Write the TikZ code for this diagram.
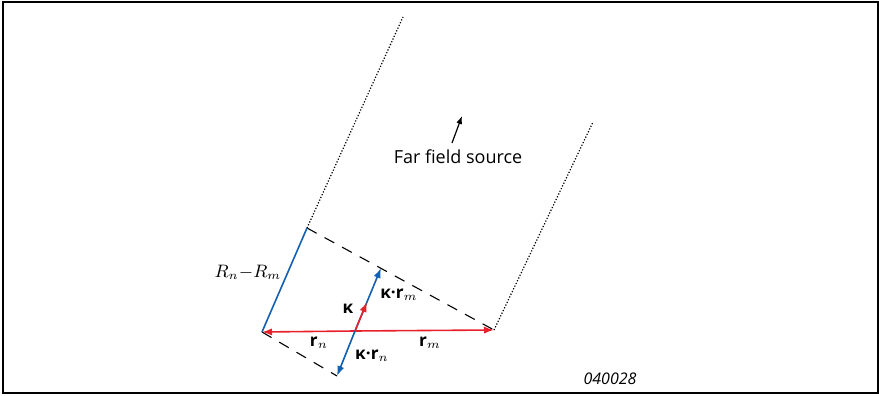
\documentclass[tikz,border=0pt]{standalone}
\usepackage{fontspec}
\setmainfont{Open Sans}
\usepackage{tikz}
\usetikzlibrary{arrows.meta}
\definecolor{vecred}{RGB}{232,32,44}
\definecolor{vecblue}{RGB}{18,96,178}
\tikzset{
  wave/.style={black,line width=0.6pt,dash pattern=on 0.6pt off 0.9pt},
  front/.style={black,line width=0.55pt,dash pattern=on 5.5pt off 4.5pt},
  vecr/.style={vecred,line width=0.8pt,-{Latex[length=5pt,width=3.6pt]}},
  vecb/.style={vecblue,line width=0.8pt,-{Latex[length=5pt,width=3.6pt]}},
  lab/.style={font=\fontsize{8.6}{10}\selectfont\bfseries,inner sep=1pt}
}
\begin{document}
\begin{tikzpicture}[x=0.5pt,y=0.5pt]
\useasboundingbox (0,0) rectangle (879,396);
\draw[line width=1pt] (3,2.5) rectangle (877.5,393.5);
% points of the array and wave fronts
\coordinate (A) at (262,64);
\coordinate (B) at (494,66);
\coordinate (C) at (307,168);
\coordinate (D) at (337,20);
\coordinate (E) at (381,128);
\coordinate (O) at (355,65);
\coordinate (K) at (367,94);
\coordinate (Ctop) at (403,379);
\coordinate (Btop) at (593,274);
% rays from the far field
\draw[wave] (C) -- (Ctop);
\draw[wave] (B) -- (Btop);
% wave fronts
\draw[front] (C) -- (B);
\draw[front] (A) -- (D);
% path difference
\draw[vecblue,line width=0.8pt] (A) -- (C);
% vectors
\draw[vecr] (O) -- (A);
\draw[vecr] (O) -- (B);
\draw[vecb] (O) -- (E);
\draw[vecb] (O) -- (D);
\draw[vecr] (O) -- (K);
% labels
\node[font=\fontsize{9.2}{11}\selectfont] (rdiff) at (248,124) {$R_n{-}R_m$};
\node[lab] (kapparm) at (399,101) {κ·r$_m$};
\node[lab] (kappa) at (348,87) {κ};
\node[lab] (rn) at (319,53) {r$_n$};
\node[lab] (kapparn) at (372,40) {κ·r$_n$};
\node[lab] (rm) at (430,53) {r$_m$};
\node[font=\fontsize{9}{10}\selectfont] (ffs) at (458,239) {Far field source};
\coordinate (ffstail) at (452,253);
\coordinate (ffstip) at (462,280);
\draw[line width=0.6pt,-{Latex[length=4pt,width=3pt]}] (ffstail) -- (ffstip);
\node[font=\fontsize{8}{9}\selectfont\itshape] (fignum) at (610,17) {040028};
\end{tikzpicture}
\end{document}
